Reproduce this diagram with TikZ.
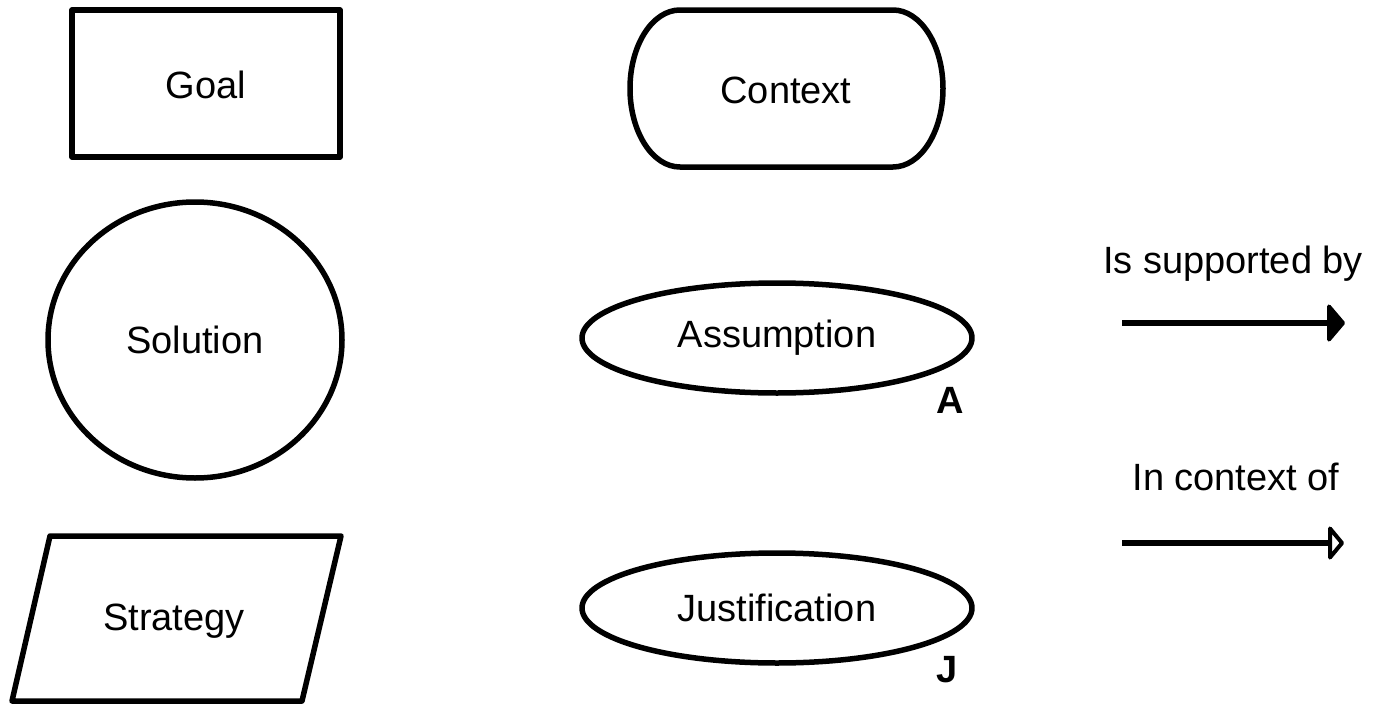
\documentclass[tikz,border=0pt]{standalone}
\usepackage{fontspec}
\setmainfont{Liberation Sans}
\usetikzlibrary{calc}
\begin{document}
\begin{tikzpicture}[x=1pt,y=-1pt,
  shapeline/.style={draw=black,line width=5.5pt,line join=round},
  lbl/.style={font=\fontsize{38}{44}\selectfont,inner sep=0pt},
  tag/.style={font=\fontsize{38}{44}\selectfont\bfseries,inner sep=0pt},
  link/.style={line width=6.5pt},
  solidtip/.style={fill=black,draw=black,line width=4pt,line join=round},
  opentip/.style={fill=white,draw=black,line width=4pt,line join=round}]
\useasboundingbox (0,0) rectangle (1374,704);

% Goal: plain rectangle
\draw[shapeline] (72,10) rectangle (340,157);
\node[lbl] (goal) at (206,85) {Goal};

% Context: rectangle with half-elliptic ends
\draw[shapeline] (680,10) -- (893,10)
  arc[start angle=90,end angle=-90,x radius=50pt,y radius=78.5pt]
  -- (680,167)
  arc[start angle=270,end angle=90,x radius=50pt,y radius=78.5pt] -- cycle;
\node[lbl] (context) at (786,90) {Context};

% Solution: circle
\draw[shapeline] (195,340) ellipse[x radius=147,y radius=138];
\node[lbl] (solution) at (195,340) {Solution};

% Assumption and Justification: ellipses with letter tags
\draw[shapeline] (777,338) ellipse[x radius=195,y radius=55];
\node[lbl] (assumption) at (777,338) {Assumption};
\node[tag] (atag) at (950,400) {A};

\draw[shapeline] (777,608) ellipse[x radius=195,y radius=55];
\node[lbl] (justification) at (777,608) {Justification};
\node[tag] (jtag) at (947,670) {J};

% Strategy: parallelogram
\draw[shapeline] (50,536) -- (341,536) -- (302,701) -- (12,701) -- cycle;
\node[lbl] (strategy) at (174,621) {Strategy};

% Legend: "is supported by" uses a filled triangular tip
\node[lbl] (supportlbl) at (1233,264) {Is supported by};
\coordinate (s1) at (1122,323);
\coordinate (s2) at (1343,323);
\draw[link] (s1) -- ($(s2)+(-14,0)$);
\draw[solidtip] (s2) -- ($(s2)+(-14,-16.5)$) -- ($(s2)+(-14,16.5)$) -- cycle;

% Legend: "in context of" uses a hollow triangular tip
\node[lbl] (contextlbl) at (1236,477) {In context of};
\coordinate (c1) at (1122,543);
\coordinate (c2) at (1342,543);
\draw[link] (c1) -- ($(c2)+(-12,0)$);
\draw[opentip] (c2) -- ($(c2)+(-12,-14.5)$) -- ($(c2)+(-12,14.5)$) -- cycle;
\end{tikzpicture}
\end{document}
